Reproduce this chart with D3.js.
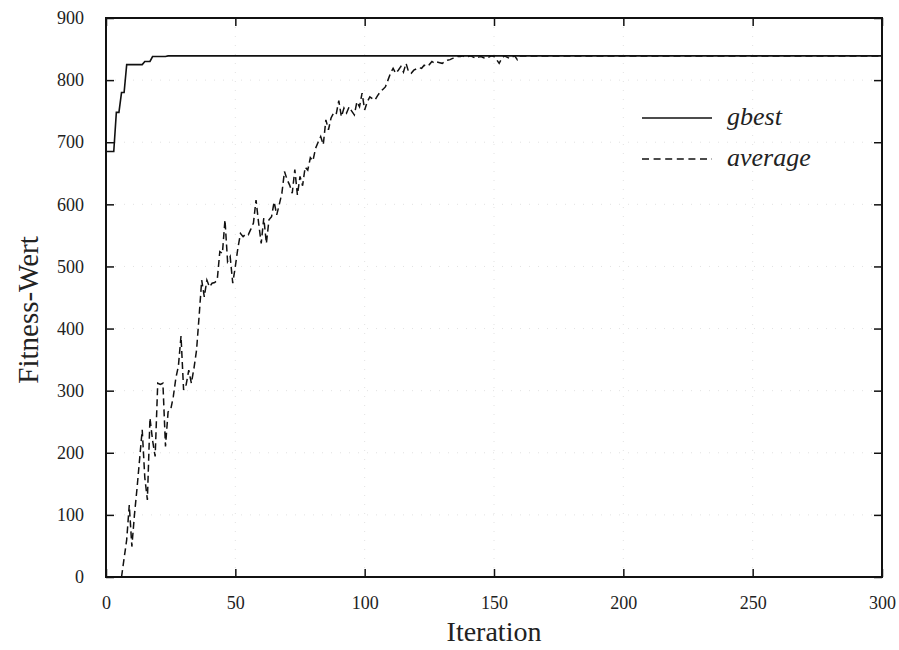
<!DOCTYPE html>
<html>
<head>
<meta charset="utf-8">
<script src="https://cdn.jsdelivr.net/npm/d3@7"></script>
<style>
  html, body { margin: 0; padding: 0; background: #fff; }
  svg { display: block; }
  text { font-family: "Liberation Serif", "Times New Roman", serif; fill: #222; }
</style>
</head>
<body>
<svg id="chart" width="899" height="650"></svg>
<script>
// ---- data ----
const xTicks = [0, 50, 100, 150, 200, 250, 300];
const yTicks = [0, 100, 200, 300, 400, 500, 600, 700, 800, 900];

const gbestIter  = [0, 3, 4, 5, 6, 7, 8, 14, 15, 17, 18, 23, 24, 300];
const gbestValue = [685, 685, 748, 748, 780, 780, 825, 825, 830, 830, 838, 838, 839, 839];

const avgIter = [
  6, 7, 8, 9, 10, 11, 12, 13, 14, 15, 16, 17, 18, 19, 20, 21, 22, 23, 24, 25,
  26, 27, 28, 29, 30, 31, 32, 33, 34, 35, 36, 37, 38, 39, 40, 41, 42, 43, 44, 45,
  46, 47, 48, 49, 50, 51, 52, 53, 54, 55, 56, 57, 58, 59, 60, 61, 62, 63, 64, 65,
  66, 67, 68, 69, 70, 71, 72, 73, 74, 75, 76, 77, 78, 79, 80, 81, 82, 83, 84, 85,
  86, 87, 88, 89, 90, 91, 92, 93, 94, 95, 96, 97, 98, 99, 100, 101, 102, 103, 104, 105,
  106, 107, 108, 109, 110, 111, 112, 113, 114, 115, 116, 117, 118, 119, 120, 121, 122, 123, 124, 125,
  126, 127, 128, 129, 130, 131, 132, 133, 134, 135, 136, 137, 138, 139, 140, 141, 142, 143, 144, 145,
  146, 147, 148, 149, 150, 151, 152, 153, 154, 155, 156, 157, 158, 159, 160, 300
];
const avgValue = [
  0, 30, 60, 116, 49, 100, 143, 190, 237, 160, 124, 256, 220, 194, 312, 310, 312, 210, 266, 269,
  290, 320, 340, 388, 301, 310, 333, 312, 336, 365, 420, 478, 451, 478, 467, 473, 474, 478, 524, 521,
  575, 508, 516, 473, 500, 530, 553, 548, 552, 551, 560, 570, 607, 570, 537, 578, 537, 575, 580, 604,
  583, 600, 618, 653, 640, 631, 618, 656, 615, 645, 630, 660, 655, 675, 670, 690, 700, 709, 696, 736,
  720, 739, 747, 745, 767, 741, 755, 747, 757, 750, 744, 765, 757, 779, 752, 765, 773, 770, 768, 775,
  781, 785, 789, 800, 811, 819, 811, 816, 822, 813, 827, 813, 811, 816, 818, 820, 819, 824, 822, 825,
  830, 827, 829, 828, 827, 830, 832, 833, 835, 836, 838, 838, 839, 837, 838, 839, 837, 835, 837, 838,
  836, 835, 837, 839, 838, 833, 827, 835, 839, 837, 835, 837, 839, 833, 839, 839
];

const seriesNames = ["gbest", "average"];

// ---- layout ----
const svg = d3.select("#chart");
const mLeft = 106, mRight = 882, mTop = 18, mBottom = 577;

const x = d3.scaleLinear().domain([0, 300]).range([mLeft, mRight]);
const y = d3.scaleLinear().domain([0, 900]).range([mBottom, mTop]);

// faint dotted grid
const grid = svg.append("g");
grid.selectAll("line.h").data(yTicks.slice(1, -1)).join("line")
  .attr("x1", mLeft).attr("x2", mRight)
  .attr("y1", d => y(d)).attr("y2", d => y(d))
  .attr("stroke", "#e2e2e2").attr("stroke-width", 1).attr("stroke-dasharray", "1,8");
grid.selectAll("line.v").data(xTicks.slice(1, -1)).join("line")
  .attr("y1", mTop).attr("y2", mBottom)
  .attr("x1", d => x(d)).attr("x2", d => x(d))
  .attr("stroke", "#e2e2e2").attr("stroke-width", 1).attr("stroke-dasharray", "1,8");

// clip
svg.append("clipPath").attr("id", "clip").append("rect")
  .attr("x", mLeft).attr("y", mTop).attr("width", mRight - mLeft).attr("height", mBottom - mTop);

// lines
const line = d3.line().x(d => x(d[0])).y(d => y(d[1]));
const gbestData = gbestIter.map((d, i) => [d, gbestValue[i]]);
const avgData = avgIter.map((d, i) => [d, avgValue[i]]);

svg.append("path").datum(avgData)
  .attr("clip-path", "url(#clip)")
  .attr("d", line).attr("fill", "none").attr("stroke", "#111")
  .attr("stroke-width", 1.5).attr("stroke-dasharray", "7,4");

svg.append("path").datum(gbestData)
  .attr("clip-path", "url(#clip)")
  .attr("d", line).attr("fill", "none").attr("stroke", "#111")
  .attr("stroke-width", 1.6);

// axes (ticks inward)
const tickLen = 8;
const axB = svg.append("g").attr("transform", `translate(0,${mBottom})`)
  .call(d3.axisBottom(x).tickValues(xTicks).tickSize(-tickLen).tickPadding(19).tickFormat(d3.format("d")));
const axT = svg.append("g").attr("transform", `translate(0,${mTop})`)
  .call(d3.axisTop(x).tickValues(xTicks).tickSize(-tickLen).tickFormat(""));
const axL = svg.append("g").attr("transform", `translate(${mLeft},0)`)
  .call(d3.axisLeft(y).tickValues(yTicks).tickSize(-tickLen).tickPadding(22).tickFormat(d3.format("d")));
const axR = svg.append("g").attr("transform", `translate(${mRight},0)`)
  .call(d3.axisRight(y).tickValues(yTicks).tickSize(-tickLen).tickFormat(""));

[axB, axT, axL, axR].forEach(a => {
  a.select(".domain").remove();
  a.selectAll(".tick line").attr("stroke", "#111").attr("stroke-width", 1.5);
  a.selectAll("text").style("font-size", "18px").attr("fill", "#222")
    .style("font-family", '"Liberation Serif", "Times New Roman", serif');
});

// frame
svg.append("rect").attr("x", mLeft).attr("y", mTop)
  .attr("width", mRight - mLeft).attr("height", mBottom - mTop)
  .attr("fill", "none").attr("stroke", "#111").attr("stroke-width", 2);

// axis titles
svg.append("text").attr("x", (mLeft + mRight) / 2).attr("y", 641)
  .attr("text-anchor", "middle").style("font-size", "28px").text("Iteration");
svg.append("text").attr("transform", `translate(38,310) rotate(-90)`)
  .attr("text-anchor", "middle").style("font-size", "29px").text("Fitness-Wert");

// legend
const legend = svg.append("g");
const legY = [118, 159];
legend.selectAll("line").data(seriesNames).join("line")
  .attr("x1", 642).attr("x2", 712)
  .attr("y1", (d, i) => legY[i]).attr("y2", (d, i) => legY[i])
  .attr("stroke", "#111").attr("stroke-width", 1.5)
  .attr("stroke-dasharray", (d, i) => i === 0 ? null : "7,4.6");
legend.selectAll("text").data(seriesNames).join("text")
  .attr("x", 727).attr("y", (d, i) => legY[i] + 7)
  .style("font-size", "26px").style("font-style", "italic").text(d => d);
</script>
</body>
</html>
